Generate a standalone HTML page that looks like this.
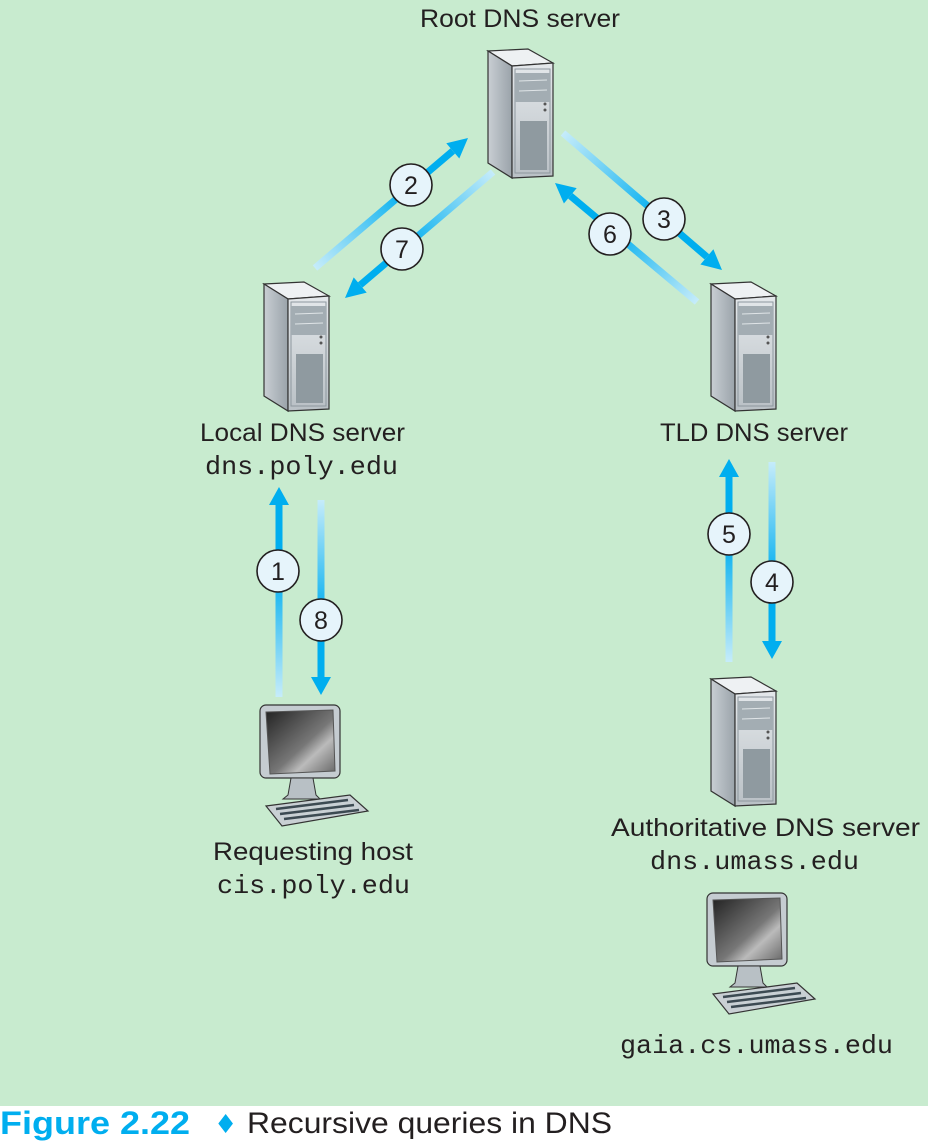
<!DOCTYPE html>
<html><head><meta charset="utf-8"><style>
html,body{margin:0;padding:0;background:#fff;}
svg{display:block;}
.s{font-family:"Liberation Sans",sans-serif;font-size:25px;fill:#231f20;}
.m{font-family:"Liberation Mono",monospace;font-size:26px;fill:#231f20;}
.n{font-family:"Liberation Sans",sans-serif;font-size:25px;fill:#231f20;text-anchor:middle;}
</style></head><body>
<svg width="928" height="1145" viewBox="0 0 928 1145" xmlns="http://www.w3.org/2000/svg">
<defs>
<linearGradient id="side" x1="0" y1="0" x2="1" y2="0"><stop offset="0" stop-color="#c9ced3"/><stop offset="1" stop-color="#9aa3aa"/></linearGradient>
<linearGradient id="front" x1="0" y1="0" x2="0" y2="1"><stop offset="0" stop-color="#e4e8eb"/><stop offset="1" stop-color="#b9c0c5"/></linearGradient>
<linearGradient id="scr" x1="0" y1="0" x2="1" y2="1"><stop offset="0" stop-color="#222"/><stop offset="0.55" stop-color="#777"/><stop offset="0.7" stop-color="#bbb"/><stop offset="1" stop-color="#666"/></linearGradient>
<g id="srv">
<polygon points="1,3 41,1 66,15 25,18" fill="#eef1f3" stroke="#333" stroke-width="1.2"/>
<polygon points="1,3 25,18 25,130 1,115" fill="url(#side)" stroke="#333" stroke-width="1.2"/>
<polygon points="25,18 66,15 66,128 25,130" fill="url(#front)" stroke="#333" stroke-width="1.2"/>
<rect x="28" y="21" width="35" height="104" fill="none" stroke="#8d979e" stroke-width="1"/>
<rect x="28" y="25" width="35" height="29" fill="#a3adb3"/>
<line x1="32" y1="33" x2="60" y2="32" stroke="#dfe4e7" stroke-width="1"/>
<line x1="32" y1="43" x2="60" y2="42" stroke="#dfe4e7" stroke-width="1"/>
<circle cx="58" cy="56" r="1.5" fill="#555"/><circle cx="58" cy="62" r="1.5" fill="#555"/>
<rect x="33" y="73" width="27" height="49" fill="#8f9aa0"/>
</g>
<g id="pc">
<rect x="2" y="0" width="80" height="73" rx="6" fill="#c5ccd1" stroke="#333" stroke-width="1.2"/>
<polygon points="8,7 75,5 77,66 12,69" fill="url(#scr)" stroke="#555" stroke-width="1"/>
<polygon points="33,73 55,73 58,90 62,94 25,94 30,90" fill="#b8c0c5" stroke="#333" stroke-width="1"/>
<polygon points="8,101 92,90 110,106 24,121" fill="#c9d0d4" stroke="#333" stroke-width="1.2"/>
<line x1="18" y1="104" x2="90" y2="95" stroke="#3c4a52" stroke-width="2.5"/>
<line x1="22" y1="109" x2="96" y2="100" stroke="#3c4a52" stroke-width="2.5"/>
<line x1="26" y1="114" x2="101" y2="105" stroke="#3c4a52" stroke-width="2.5"/>
</g>
<linearGradient id="g2" gradientUnits="userSpaceOnUse" x1="315" y1="268" x2="468" y2="138"><stop offset="0" stop-color="#c6ecfa"/><stop offset="0.6" stop-color="#00aeef"/></linearGradient>
<linearGradient id="g7" gradientUnits="userSpaceOnUse" x1="493" y1="172" x2="345" y2="298"><stop offset="0" stop-color="#c6ecfa"/><stop offset="0.6" stop-color="#00aeef"/></linearGradient>
<linearGradient id="g3" gradientUnits="userSpaceOnUse" x1="563" y1="133" x2="722" y2="270"><stop offset="0" stop-color="#c6ecfa"/><stop offset="0.6" stop-color="#00aeef"/></linearGradient>
<linearGradient id="g6" gradientUnits="userSpaceOnUse" x1="697" y1="302" x2="555" y2="183"><stop offset="0" stop-color="#c6ecfa"/><stop offset="0.6" stop-color="#00aeef"/></linearGradient>
<linearGradient id="g1" gradientUnits="userSpaceOnUse" x1="279" y1="697" x2="279" y2="487"><stop offset="0" stop-color="#c6ecfa"/><stop offset="0.6" stop-color="#00aeef"/></linearGradient>
<linearGradient id="g8" gradientUnits="userSpaceOnUse" x1="321" y1="500" x2="321" y2="695"><stop offset="0" stop-color="#c6ecfa"/><stop offset="0.6" stop-color="#00aeef"/></linearGradient>
<linearGradient id="g5" gradientUnits="userSpaceOnUse" x1="729" y1="662" x2="729" y2="459"><stop offset="0" stop-color="#c6ecfa"/><stop offset="0.6" stop-color="#00aeef"/></linearGradient>
<linearGradient id="g4" gradientUnits="userSpaceOnUse" x1="772" y1="462" x2="772" y2="659"><stop offset="0" stop-color="#c6ecfa"/><stop offset="0.6" stop-color="#00aeef"/></linearGradient>
</defs>
<rect x="0" y="0" width="928" height="1106" fill="#c8ebcf"/>

<text class="s" x="420" y="27" textLength="200" lengthAdjust="spacingAndGlyphs">Root DNS server</text>
<use href="#srv" x="487" y="48"/>
<use href="#srv" x="263" y="281"/>
<use href="#srv" x="710" y="281"/>
<use href="#srv" x="710" y="676"/>
<use href="#pc" x="258" y="705"/>
<use href="#pc" x="705" y="893"/>

<g stroke-width="7" fill="none">
<line x1="315" y1="268" x2="452.8" y2="150.9" stroke="url(#g2)"/>
<line x1="493" y1="172" x2="360.2" y2="285" stroke="url(#g7)"/>
<line x1="563" y1="133" x2="706.9" y2="256.9" stroke="url(#g3)"/>
<line x1="697" y1="302" x2="570.3" y2="195.8" stroke="url(#g6)"/>
<line x1="279" y1="697" x2="279" y2="505" stroke="url(#g1)"/>
<line x1="321" y1="500" x2="321" y2="677" stroke="url(#g8)"/>
<line x1="729" y1="662" x2="729" y2="477" stroke="url(#g5)"/>
<line x1="772" y1="462" x2="772" y2="641" stroke="url(#g4)"/>
</g>
<g fill="#00aeef">
<polygon points="468,138 459.3,158.5 446.3,143.3"/>
<polygon points="345,298 366.7,292.6 353.7,277.4"/>
<polygon points="722,270 700.4,264.5 713.4,249.3"/>
<polygon points="555,183 576.7,188.1 563.9,203.5"/>
<polygon points="279,487 269,505 289,505"/>
<polygon points="321,695 311,677 331,677"/>
<polygon points="729,459 719,477 739,477"/>
<polygon points="772,659 762,641 782,641"/>
</g>
<g fill="#e6f4fb" stroke="#231f20" stroke-width="1.6">
<circle cx="411" cy="185" r="21"/><circle cx="402" cy="249" r="21"/>
<circle cx="610" cy="234" r="21"/><circle cx="664" cy="219" r="21"/>
<circle cx="278" cy="571" r="21"/><circle cx="321" cy="620" r="21"/>
<circle cx="729" cy="534" r="21"/><circle cx="772" cy="582" r="21"/>
</g>
<text class="n" x="411" y="194">2</text><text class="n" x="402" y="258">7</text>
<text class="n" x="610" y="243">6</text><text class="n" x="664" y="228">3</text>
<text class="n" x="278" y="580">1</text><text class="n" x="321" y="629">8</text>
<text class="n" x="729" y="543">5</text><text class="n" x="772" y="591">4</text>

<text class="s" x="200" y="441" textLength="205" lengthAdjust="spacingAndGlyphs">Local DNS server</text>
<text class="m" x="205" y="474" textLength="193" lengthAdjust="spacingAndGlyphs">dns.poly.edu</text>
<text class="s" x="660" y="441" textLength="188" lengthAdjust="spacingAndGlyphs">TLD DNS server</text>
<text class="s" x="213" y="860" textLength="200" lengthAdjust="spacingAndGlyphs">Requesting host</text>
<text class="m" x="217" y="893" textLength="193" lengthAdjust="spacingAndGlyphs">cis.poly.edu</text>
<text class="s" x="611" y="836" textLength="309" lengthAdjust="spacingAndGlyphs">Authoritative DNS server</text>
<text class="m" x="650" y="869" textLength="209" lengthAdjust="spacingAndGlyphs">dns.umass.edu</text>
<text class="m" x="620" y="1053" textLength="273" lengthAdjust="spacingAndGlyphs">gaia.cs.umass.edu</text>

<text x="0" y="1134" font-family="Liberation Sans, sans-serif" font-weight="bold" font-size="32" fill="#00aeef" textLength="190" lengthAdjust="spacingAndGlyphs">Figure 2.22</text>
<text x="214" y="1133" font-family="DejaVu Sans, sans-serif" font-size="26" fill="#00aeef">♦</text>
<text x="247" y="1133" font-family="Liberation Sans, sans-serif" font-size="30" fill="#231f20" textLength="365" lengthAdjust="spacingAndGlyphs">Recursive queries in DNS</text>
</svg>
</body></html>
